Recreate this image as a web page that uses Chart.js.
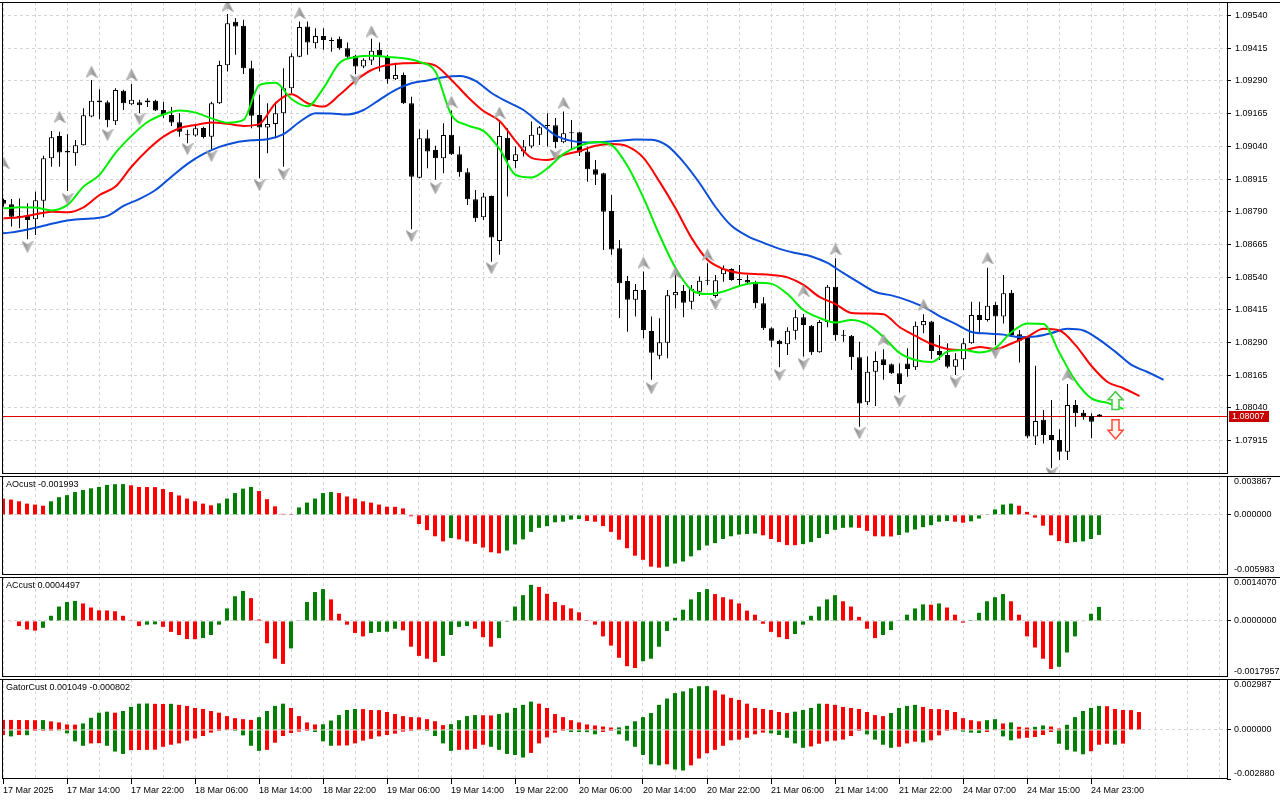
<!DOCTYPE html>
<html>
<head>
<meta charset="utf-8">
<title>EURUSD H1 — Alligator, AO, AC, Gator</title>
<script src="https://cdn.jsdelivr.net/npm/chart.js@4.4.1/dist/chart.umd.min.js"></script>
<style>
  html, body { margin: 0; padding: 0; background: #fff; }
  #wrap { position: relative; width: 1280px; height: 800px; overflow: hidden; background: #fff; }
  #wrap canvas { position: absolute; left: 0; }
</style>
</head>
<body>
<div id="wrap">
  <canvas id="main" width="1280" height="472" style="top:2px"></canvas>
  <canvas id="ao" width="1280" height="99" style="top:476px"></canvas>
  <canvas id="ac" width="1280" height="100" style="top:577px"></canvas>
  <canvas id="gator" width="1280" height="121" style="top:679px"></canvas>
</div>
<script>
"use strict";

// --- candles, H1, bar 0 = 17 Mar 2025 ---
const OPEN = [1.08835, 1.08819, 1.08774, 1.08774, 1.08761, 1.08832, 1.08994, 1.09080, 1.09022, 1.09014,
  1.09044, 1.09154, 1.09215, 1.09209, 1.09136, 1.09253, 1.09201, 1.09209, 1.09215, 1.09214,
  1.09179, 1.09160, 1.09132, 1.09082, 1.09081, 1.09110, 1.09077, 1.09205, 1.09350, 1.09516,
  1.09501, 1.09339, 1.09160, 1.09112, 1.09125, 1.09167, 1.09262, 1.09383, 1.09498, 1.09434,
  1.09462, 1.09447, 1.09451, 1.09415, 1.09386, 1.09345, 1.09368, 1.09409, 1.09383, 1.09297,
  1.09313, 1.09205, 1.08920, 1.09071, 1.09026, 1.08994, 1.09084, 1.09010, 1.08941, 1.08838,
  1.08769, 1.08850, 1.08678, 1.09073, 1.08984, 1.09020, 1.09039, 1.09084, 1.09118, 1.09121,
  1.09056, 1.09094, 1.09094, 1.09020, 1.08952, 1.08937, 1.08793, 1.08650, 1.08525, 1.08453,
  1.08491, 1.08334, 1.08239, 1.08289, 1.08471, 1.08487, 1.08446, 1.08484, 1.08526, 1.08468,
  1.08551, 1.08571, 1.08533, 1.08529, 1.08516, 1.08440, 1.08344, 1.08297, 1.08283, 1.08335,
  1.08386, 1.08354, 1.08253, 1.08368, 1.08503, 1.08319, 1.08316, 1.08233, 1.08061, 1.08178,
  1.08226, 1.08207, 1.08172, 1.08210, 1.08195, 1.08356, 1.08370, 1.08257, 1.08242, 1.08197,
  1.08226, 1.08287, 1.08395, 1.08376, 1.08433, 1.08389, 1.08480, 1.08321, 1.08312, 1.07930,
  1.07994, 1.07936, 1.07917, 1.07872, 1.08051, 1.08021, 1.08009, 1.08015];
const HIGH = [1.08841, 1.08839, 1.08841, 1.08822, 1.08867, 1.09004, 1.09099, 1.09096, 1.09086, 1.09064,
  1.09186, 1.09294, 1.09258, 1.09215, 1.09262, 1.09256, 1.09279, 1.09218, 1.09224, 1.09218,
  1.09211, 1.09190, 1.09167, 1.09103, 1.09122, 1.09115, 1.09211, 1.09367, 1.09546, 1.09530,
  1.09524, 1.09367, 1.09237, 1.09205, 1.09211, 1.09339, 1.09396, 1.09517, 1.09517, 1.09492,
  1.09492, 1.09456, 1.09460, 1.09437, 1.09390, 1.09377, 1.09451, 1.09437, 1.09390, 1.09360,
  1.09322, 1.09230, 1.09105, 1.09103, 1.09042, 1.09128, 1.09177, 1.09039, 1.08956, 1.08873,
  1.08863, 1.08852, 1.09135, 1.09109, 1.09039, 1.09064, 1.09135, 1.09118, 1.09167, 1.09148,
  1.09173, 1.09141, 1.09096, 1.09039, 1.08988, 1.08939, 1.08854, 1.08682, 1.08544, 1.08514,
  1.08561, 1.08389, 1.08383, 1.08491, 1.08567, 1.08510, 1.08510, 1.08542, 1.08593, 1.08548,
  1.08584, 1.08574, 1.08586, 1.08548, 1.08526, 1.08463, 1.08348, 1.08300, 1.08348, 1.08414,
  1.08399, 1.08357, 1.08376, 1.08510, 1.08612, 1.08338, 1.08319, 1.08293, 1.08236, 1.08255,
  1.08264, 1.08210, 1.08210, 1.08268, 1.08370, 1.08398, 1.08372, 1.08319, 1.08287, 1.08249,
  1.08306, 1.08446, 1.08446, 1.08576, 1.08446, 1.08548, 1.08491, 1.08338, 1.08314, 1.08201,
  1.08032, 1.08070, 1.07958, 1.08131, 1.08070, 1.08032, 1.08019, 1.08016];
const LOW = [1.08809, 1.08733, 1.08727, 1.08685, 1.08701, 1.08769, 1.08962, 1.08962, 1.08869, 1.08966,
  1.09043, 1.09151, 1.09144, 1.09113, 1.09122, 1.09179, 1.09198, 1.09167, 1.09190, 1.09175,
  1.09148, 1.09118, 1.09077, 1.09052, 1.09077, 1.09070, 1.09030, 1.09202, 1.09326, 1.09390,
  1.09317, 1.09109, 1.08918, 1.09014, 1.09071, 1.08962, 1.09243, 1.09381, 1.09390, 1.09415,
  1.09409, 1.09402, 1.09409, 1.09377, 1.09317, 1.09339, 1.09351, 1.09326, 1.09279, 1.09294,
  1.09202, 1.08723, 1.08918, 1.08956, 1.08912, 1.08937, 1.09007, 1.08924, 1.08816, 1.08752,
  1.08758, 1.08599, 1.08625, 1.08848, 1.08956, 1.09001, 1.09033, 1.09045, 1.09039, 1.09033,
  1.09052, 1.09026, 1.09003, 1.08905, 1.08892, 1.08644, 1.08625, 1.08384, 1.08331, 1.08389,
  1.08306, 1.08147, 1.08226, 1.08230, 1.08421, 1.08386, 1.08417, 1.08468, 1.08510, 1.08461,
  1.08522, 1.08526, 1.08506, 1.08510, 1.08421, 1.08338, 1.08272, 1.08195, 1.08242, 1.08300,
  1.08236, 1.08242, 1.08251, 1.08348, 1.08297, 1.08293, 1.08185, 1.07968, 1.08051, 1.08047,
  1.08147, 1.08169, 1.08099, 1.08159, 1.08185, 1.08325, 1.08226, 1.08223, 1.08191, 1.08166,
  1.08185, 1.08285, 1.08325, 1.08370, 1.08280, 1.08363, 1.08317, 1.08213, 1.07924, 1.07898,
  1.07904, 1.07809, 1.07841, 1.07841, 1.07968, 1.07994, 1.07924, 1.08005];
const CLOSE = [1.08820, 1.08771, 1.08769, 1.08758, 1.08834, 1.08994, 1.09075, 1.09016, 1.09016, 1.09044,
  1.09159, 1.09214, 1.09209, 1.09140, 1.09255, 1.09205, 1.09218, 1.09197, 1.09209, 1.09177,
  1.09160, 1.09131, 1.09096, 1.09084, 1.09109, 1.09076, 1.09205, 1.09351, 1.09511, 1.09498,
  1.09339, 1.09157, 1.09112, 1.09125, 1.09167, 1.09262, 1.09385, 1.09496, 1.09437, 1.09462,
  1.09447, 1.09443, 1.09415, 1.09383, 1.09345, 1.09371, 1.09406, 1.09386, 1.09297, 1.09313,
  1.09205, 1.08924, 1.09071, 1.09020, 1.08994, 1.09083, 1.09010, 1.08941, 1.08838, 1.08765,
  1.08848, 1.08691, 1.09080, 1.08988, 1.09010, 1.09039, 1.09084, 1.09113, 1.09122, 1.09056,
  1.09090, 1.09090, 1.09016, 1.08952, 1.08931, 1.08790, 1.08646, 1.08516, 1.08453, 1.08491,
  1.08338, 1.08251, 1.08291, 1.08471, 1.08483, 1.08442, 1.08495, 1.08526, 1.08529, 1.08528,
  1.08571, 1.08529, 1.08529, 1.08519, 1.08440, 1.08344, 1.08297, 1.08283, 1.08335, 1.08386,
  1.08357, 1.08253, 1.08368, 1.08503, 1.08318, 1.08316, 1.08233, 1.08057, 1.08178, 1.08219,
  1.08204, 1.08172, 1.08131, 1.08189, 1.08354, 1.08372, 1.08257, 1.08242, 1.08197, 1.08226,
  1.08287, 1.08395, 1.08376, 1.08430, 1.08389, 1.08478, 1.08319, 1.08297, 1.07930, 1.07990,
  1.07936, 1.07917, 1.07872, 1.08051, 1.08019, 1.08006, 1.07987, 1.08007];

// --- alligator lines, one reading every 2 bars ---
const JAW_FROM = -1;    // blue, runs 8 bars past the last candle
const JAW = [1.08705, 1.08711, 1.08722, 1.08736, 1.08751, 1.08760, 1.08764, 1.08774, 1.08812, 1.08839,
  1.08873, 1.08924, 1.08973, 1.09011, 1.09038, 1.09055, 1.09063, 1.09067, 1.09087, 1.09133,
  1.09167, 1.09166, 1.09162, 1.09179, 1.09218, 1.09256, 1.09281, 1.09292, 1.09304, 1.09309,
  1.09290, 1.09244, 1.09210, 1.09179, 1.09130, 1.09082, 1.09061, 1.09055, 1.09057, 1.09061,
  1.09066, 1.09065, 1.09042, 1.08980, 1.08900, 1.08808, 1.08736, 1.08697, 1.08671, 1.08648,
  1.08632, 1.08619, 1.08594, 1.08555, 1.08518, 1.08483, 1.08470, 1.08451, 1.08426, 1.08391,
  1.08361, 1.08330, 1.08324, 1.08320, 1.08311, 1.08313, 1.08326, 1.08342, 1.08336, 1.08300,
  1.08254, 1.08204, 1.08177, 1.08147];
const TEETH_FROM = 0;   // red
const TEETH = [1.08765, 1.08769, 1.08780, 1.08790, 1.08788, 1.08807, 1.08854, 1.08886, 1.08962, 1.09026,
  1.09077, 1.09109, 1.09122, 1.09131, 1.09126, 1.09118, 1.09126, 1.09205, 1.09239, 1.09205,
  1.09192, 1.09237, 1.09291, 1.09332, 1.09351, 1.09358, 1.09359, 1.09349, 1.09294, 1.09230,
  1.09175, 1.09137, 1.09061, 1.08996, 1.08988, 1.09007, 1.09022, 1.09042, 1.09049, 1.09040,
  1.08996, 1.08905, 1.08803, 1.08690, 1.08606, 1.08571, 1.08556, 1.08552, 1.08548, 1.08539,
  1.08510, 1.08464, 1.08437, 1.08403, 1.08401, 1.08398, 1.08349, 1.08315, 1.08284, 1.08265,
  1.08261, 1.08273, 1.08265, 1.08286, 1.08312, 1.08342, 1.08336, 1.08280, 1.08200, 1.08139,
  1.08115, 1.08085];
const LIPS_FROM = 0;    // green
const LIPS = [1.08803, 1.08807, 1.08806, 1.08795, 1.08816, 1.08886, 1.08931, 1.09015, 1.09080, 1.09133,
  1.09162, 1.09177, 1.09169, 1.09147, 1.09130, 1.09141, 1.09275, 1.09283, 1.09221, 1.09193,
  1.09263, 1.09359, 1.09381, 1.09386, 1.09382, 1.09377, 1.09363, 1.09325, 1.09160, 1.09120,
  1.09099, 1.09030, 1.08931, 1.08921, 1.08956, 1.09011, 1.09042, 1.09057, 1.09045, 1.08965,
  1.08843, 1.08701, 1.08575, 1.08491, 1.08475, 1.08485, 1.08506, 1.08518, 1.08514, 1.08475,
  1.08414, 1.08384, 1.08366, 1.08376, 1.08359, 1.08311, 1.08250, 1.08223, 1.08215, 1.08255,
  1.08261, 1.08252, 1.08269, 1.08330, 1.08363, 1.08361, 1.08250, 1.08143, 1.08076, 1.08059,
  1.08036];

// --- fractals (bar, price where the arrow sits) ---
const FR_UP_BARS = [0, 7, 11, 16, 28, 37, 46, 56, 62, 70, 80, 84, 88, 100, 104, 110, 115, 123, 133];
const FR_UP_PRICES = [1.08977, 1.09152, 1.09325, 1.09313, 1.09577, 1.09550, 1.09479, 1.09210, 1.09168, 1.09206,
  1.08595, 1.08557, 1.08625, 1.08488, 1.08646, 1.08300, 1.08433, 1.08612, 1.08166];
const FR_DN_BARS = [3, 8, 13, 17, 23, 26, 32, 35, 44, 51, 54, 61, 69, 81, 89, 97, 100, 107, 112, 119, 124, 131];
const FR_DN_PRICES = [1.08656, 1.08839, 1.09084, 1.09145, 1.09030, 1.09004, 1.08892, 1.08934, 1.09294, 1.08697,
  1.08880, 1.08574, 1.09007, 1.08115, 1.08437, 1.08166, 1.08208, 1.07943, 1.08066, 1.08138, 1.08251, 1.07790];

// signal arrows after the last bar: [tail, tip]
const SIGNAL_BAR = 139;
const BUY_ARROW = [1.08034, 1.08102];
const SELL_ARROW = [1.07994, 1.07921];
const LAST_PRICE = 1.08007;

// --- oscillators ---
const AO = [0.00162, 0.00152, 0.00135, 0.00112, 0.00102, 0.00091, 0.00135, 0.00176, 0.00196, 0.00227,
  0.00247, 0.00264, 0.00278, 0.00298, 0.00305, 0.00306, 0.00294, 0.00278, 0.00277, 0.00276,
  0.00257, 0.00227, 0.00193, 0.00162, 0.00135, 0.00112, 0.00095, 0.00115, 0.00162, 0.00217,
  0.00261, 0.00278, 0.00237, 0.00156, 0.00085, 0.00010, 0.00009, 0.00074, 0.00122, 0.00162,
  0.00217, 0.00227, 0.00217, 0.00183, 0.00162, 0.00135, 0.00122, 0.00102, 0.00081, 0.00080,
  0.00064, -0.00014, -0.00091, -0.00152, -0.00213, -0.00264, -0.00230, -0.00244, -0.00264, -0.00288,
  -0.00325, -0.00372, -0.00383, -0.00355, -0.00294, -0.00244, -0.00169, -0.00129, -0.00112, -0.00074,
  -0.00068, -0.00047, -0.00041, -0.00061, -0.00068, -0.00112, -0.00169, -0.00247, -0.00332, -0.00406,
  -0.00447, -0.00515, -0.00525, -0.00515, -0.00484, -0.00464, -0.00413, -0.00352, -0.00305, -0.00281,
  -0.00240, -0.00213, -0.00196, -0.00190, -0.00186, -0.00203, -0.00240, -0.00271, -0.00301, -0.00302,
  -0.00291, -0.00271, -0.00230, -0.00190, -0.00149, -0.00129, -0.00125, -0.00129, -0.00159, -0.00213,
  -0.00214, -0.00215, -0.00200, -0.00176, -0.00146, -0.00122, -0.00102, -0.00068, -0.00061, -0.00068,
  -0.00078, -0.00064, -0.00037, 0.00007, 0.00054, 0.00102, 0.00112, 0.00091, 0.00030, -0.00027,
  -0.00108, -0.00203, -0.00261, -0.00281, -0.00271, -0.00264, -0.00240, -0.001993];
const AC = [-0.000010, -0.000020, -0.000165, -0.000275, -0.000310, -0.000220, 0.000165, 0.000460, 0.000605, 0.000640,
  0.000560, 0.000430, 0.000340, 0.000335, 0.000310, 0.000165, 0.000010, -0.000165, -0.000120, -0.000110,
  -0.000190, -0.000350, -0.000450, -0.000580, -0.000585, -0.000550, -0.000450, -0.000120, 0.000400, 0.000790,
  0.000960, 0.000730, 0.000045, -0.000715, -0.001210, -0.001375, -0.000880, 0.000010, 0.000605, 0.000925,
  0.001020, 0.000690, 0.000230, -0.000120, -0.000385, -0.000495, -0.000385, -0.000350, -0.000345, -0.000250,
  -0.000300, -0.000825, -0.001120, -0.001210, -0.001320, -0.001120, -0.000450, -0.000190, -0.000165, -0.000250,
  -0.000520, -0.000825, -0.000550, -0.000030, 0.000460, 0.000825, 0.001155, 0.001090, 0.000870, 0.000605,
  0.000505, 0.000400, 0.000275, 0.000030, -0.000120, -0.000495, -0.000790, -0.001180, -0.001450, -0.001510,
  -0.001290, -0.001210, -0.000825, -0.000320, 0.000100, 0.000360, 0.000690, 0.000925, 0.001020, 0.000860,
  0.000760, 0.000690, 0.000560, 0.000330, 0.000200, -0.000090, -0.000350, -0.000520, -0.000580, -0.000420,
  -0.000120, 0.000165, 0.000460, 0.000690, 0.000825, 0.000630, 0.000460, 0.000130, -0.000250, -0.000550,
  -0.000450, -0.000290, 0.000020, 0.000200, 0.000400, 0.000530, 0.000520, 0.000560, 0.000430, 0.000200,
  -0.000055, 0.000030, 0.000260, 0.000630, 0.000760, 0.000860, 0.000630, 0.000200, -0.000495, -0.000850,
  -0.001210, -0.001540, -0.001470, -0.001010, -0.000495, -0.000020, 0.000230, 0.0004497];
const GATOR_UP = [0.000590, 0.000585, 0.000580, 0.000575, 0.000570, 0.000575, 0.000500, 0.000440, 0.000320, 0.000310,
  0.000380, 0.000710, 0.001010, 0.001070, 0.001010, 0.001110, 0.001350, 0.001540, 0.001550, 0.001530,
  0.001520, 0.001530, 0.001470, 0.001410, 0.001290, 0.001230, 0.001110, 0.001010, 0.000810, 0.000690,
  0.000630, 0.000590, 0.000750, 0.001110, 0.001410, 0.001540, 0.001290, 0.000810, 0.000440, 0.000320,
  0.000330, 0.000550, 0.000870, 0.001170, 0.001230, 0.001220, 0.001170, 0.001160, 0.001050, 0.000930,
  0.000810, 0.000750, 0.000740, 0.000630, 0.000510, 0.000280, 0.000340, 0.000570, 0.000810, 0.000870,
  0.000860, 0.000850, 0.000930, 0.001010, 0.001290, 0.001470, 0.001660, 0.001540, 0.001290, 0.000930,
  0.000750, 0.000570, 0.000440, 0.000320, 0.000260, 0.000200, 0.000140, 0.000150, 0.000240, 0.000505,
  0.000750, 0.000990, 0.001470, 0.001840, 0.002160, 0.002260, 0.002440, 0.002565, 0.002570, 0.002320,
  0.002080, 0.001880, 0.001760, 0.001540, 0.001290, 0.001230, 0.001170, 0.001050, 0.000990, 0.001070,
  0.001170, 0.001290, 0.001540, 0.001530, 0.001470, 0.001350, 0.001290, 0.001230, 0.001050, 0.000870,
  0.000810, 0.000990, 0.001290, 0.001410, 0.001470, 0.001350, 0.001230, 0.001220, 0.001170, 0.001050,
  0.000690, 0.000570, 0.000505, 0.000570, 0.000630, 0.000380, 0.000440, 0.000180, 0.000140, 0.000180,
  0.000260, 0.000200, 0.000080, 0.000300, 0.000750, 0.001110, 0.001290, 0.001410, 0.001390, 0.001230,
  0.001170, 0.001160, 0.001049];
const GATOR_DN = [-0.000300, -0.000380, -0.000300, -0.000310, -0.000060, -0.000060, -0.000005, -0.000010, -0.000200, -0.000670,
  -0.000930, -0.000790, -0.000780, -0.000930, -0.001270, -0.001410, -0.001190, -0.001180, -0.001170, -0.001160,
  -0.000990, -0.000870, -0.000790, -0.000630, -0.000505, -0.000360, -0.000160, -0.000060, -0.000020, -0.000060,
  -0.000320, -0.000930, -0.001230, -0.001170, -0.000750, -0.000360, -0.000180, -0.000100, -0.000060, -0.000120,
  -0.000670, -0.000930, -0.000920, -0.000910, -0.000790, -0.000630, -0.000525, -0.000380, -0.000300, -0.000220,
  -0.000100, -0.000060, -0.000020, -0.000060, -0.000360, -0.000790, -0.001230, -0.001170, -0.001160, -0.001110,
  -0.000870, -0.000990, -0.001170, -0.001410, -0.001470, -0.001620, -0.001350, -0.000790, -0.000440, -0.000160,
  -0.000060, -0.000120, -0.000125, -0.000130, -0.000260, -0.000120, -0.000060, -0.000260, -0.000630, -0.000990,
  -0.001470, -0.002020, -0.002080, -0.002020, -0.002320, -0.002380, -0.002080, -0.001680, -0.001370, -0.001170,
  -0.000930, -0.000610, -0.000570, -0.000460, -0.000260, -0.000160, -0.000200, -0.000300, -0.000460, -0.000790,
  -0.001050, -0.000970, -0.000810, -0.000670, -0.000630, -0.000570, -0.000360, -0.000060, -0.000260, -0.000570,
  -0.000870, -0.001050, -0.000990, -0.000790, -0.000690, -0.000730, -0.000610, -0.000320, -0.000060, -0.000020,
  -0.000100, -0.000160, -0.000180, -0.000120, -0.000020, -0.000380, -0.000610, -0.000505, -0.000460, -0.000420,
  -0.000300, -0.000120, -0.000810, -0.001170, -0.001270, -0.001430, -0.001250, -0.000870, -0.000810, -0.000870,
  -0.000802];

// --- axes ---
const PRICE_TICKS = [1.07915, 1.08040, 1.08165, 1.08290, 1.08415, 1.08540, 1.08665,
  1.08790, 1.08915, 1.09040, 1.09165, 1.09290, 1.09415, 1.09540];
const TIME_LABELS = ["17 Mar 2025", "17 Mar 14:00", "17 Mar 22:00", "18 Mar 06:00", "18 Mar 14:00",
  "18 Mar 22:00", "19 Mar 06:00", "19 Mar 14:00", "19 Mar 22:00", "20 Mar 06:00", "20 Mar 14:00",
  "20 Mar 22:00", "21 Mar 06:00", "21 Mar 14:00", "21 Mar 22:00", "24 Mar 07:00", "24 Mar 15:00",
  "24 Mar 23:00"];
const AO_RANGE = [-0.005983, 0.003867];
const AC_RANGE = [-0.0017957, 0.0014070];
const GATOR_RANGE = [-0.002880, 0.002987];
const PRICE_RANGE = [1.07787, 1.09592];

// --- look ---
const FONT = { family: '"Liberation Sans", Arial, sans-serif', size: 9 };
const FONT_CSS = '9px "Liberation Sans", Arial, sans-serif';
const GRID = "#d5d5d5";
const UP_C = "#008000", DOWN_C = "#ff0000";
const BAR_PX = 8;                       // one bar every 8 px
const AREA_W = 1225;                    // plot width left of the price axis

const noPad = (s) => { s.paddingTop = s.paddingBottom = s.paddingLeft = s.paddingRight = 0; };

function xAxis(xMin, withLabels) {
  return {
    type: "linear", min: xMin, max: xMin + AREA_W / BAR_PX, offset: false,
    afterBuildTicks: (s) => { s.ticks = []; for (let v = 0; v <= 152; v += 4) s.ticks.push({ value: v }); },
    afterFit: (s) => { s.height = withLabels ? 21 : 0; noPad(s); },
    grid: {
      color: GRID, offset: false, drawTicks: withLabels, tickLength: 5,
      tickColor: (c) => (c.tick && c.tick.value % 8 === 0 && c.tick.value <= 136) ? "#000" : "rgba(0,0,0,0)",
    },
    border: { display: false, dash: [3, 3] },
    ticks: {
      display: withLabels, autoSkip: false, maxRotation: 0, align: "start", padding: 1,
      color: "#000", font: FONT,
      callback: (v) => (v % 8 === 0 && TIME_LABELS[v / 8]) || "",
    },
  };
}

// MT colouring: green when the bar grew against the previous one
const trendColors = (vals) => vals.map((v, i) => (i > 0 && v > vals[i - 1]) ? UP_C : DOWN_C);
const sizeColors = (vals) => vals.map((v, i) => (i > 0 && Math.abs(v) > Math.abs(vals[i - 1])) ? UP_C : DOWN_C);

const frame = {
  id: "frame",
  afterDraw(chart, args, o) {
    const { ctx, chartArea: a, width } = chart;
    ctx.save();
    ctx.strokeStyle = "#000";
    ctx.lineWidth = 1;
    ctx.beginPath();
    ctx.moveTo(0, a.top + 0.5); ctx.lineTo(width, a.top + 0.5);
    ctx.moveTo(a.left + 0.5, a.top); ctx.lineTo(a.left + 0.5, a.bottom);
    ctx.moveTo(a.left, a.bottom - 0.5); ctx.lineTo(a.right + 1, a.bottom - 0.5);
    ctx.moveTo(a.right + 0.5, a.top); ctx.lineTo(a.right + 0.5, a.bottom);
    ctx.stroke();
    ctx.font = FONT_CSS;
    ctx.fillStyle = "#000";
    ctx.textAlign = "left";
    if (o.title) {
      ctx.textBaseline = "middle";
      ctx.fillText(o.title, a.left + 4, a.top + 9);
    }
    if (o.yLabels) {
      const y = chart.scales.y;
      o.yLabels.forEach((v) => {
        const py = y.getPixelForValue(v);
        let dy = 0;
        if (py <= a.top + 1) { ctx.textBaseline = "top"; dy = 1; }
        else if (py >= a.bottom - 1) { ctx.textBaseline = "bottom"; dy = -1; }
        else ctx.textBaseline = "middle";
        ctx.fillText(v.toFixed(o.digits), a.right + 7, py + dy);
      });
    }
    ctx.restore();
  },
};

function drawArrow(ctx, x, yTail, yTip, stroke, fill) {
  const dir = yTip < yTail ? -1 : 1;
  const head = Math.abs(yTip - yTail) * 0.46;
  const neck = yTip - dir * head;
  ctx.beginPath();
  ctx.moveTo(x, yTip);
  ctx.lineTo(x + 7.5, neck);
  ctx.lineTo(x + 3.5, neck);
  ctx.lineTo(x + 3.5, yTail);
  ctx.lineTo(x - 3.5, yTail);
  ctx.lineTo(x - 3.5, neck);
  ctx.lineTo(x - 7.5, neck);
  ctx.closePath();
  ctx.fillStyle = fill;
  ctx.fill();
  ctx.lineWidth = 1.5;
  ctx.strokeStyle = stroke;
  ctx.stroke();
}

const priceMarks = {
  id: "priceMarks",
  beforeDatasetsDraw(chart) {
    const { ctx, chartArea: a, scales: { y } } = chart;
    const py = Math.round(y.getPixelForValue(LAST_PRICE)) + 0.5;
    ctx.save();
    ctx.strokeStyle = "#e00000";
    ctx.lineWidth = 1;
    ctx.beginPath(); ctx.moveTo(a.left, py); ctx.lineTo(a.right, py); ctx.stroke();
    ctx.restore();
  },
  afterDatasetsDraw(chart) {
    const { ctx, scales: { x, y } } = chart;
    const px = x.getPixelForValue(SIGNAL_BAR);
    ctx.save();
    drawArrow(ctx, px, y.getPixelForValue(BUY_ARROW[0]), y.getPixelForValue(BUY_ARROW[1]), "#49c84a", "#f3fff0");
    drawArrow(ctx, px, y.getPixelForValue(SELL_ARROW[0]), y.getPixelForValue(SELL_ARROW[1]), "#ff4a3a", "#fff3ef");
    ctx.restore();
  },
  afterDraw(chart) {
    const { ctx, chartArea: a, scales: { y } } = chart;
    const py = Math.round(y.getPixelForValue(LAST_PRICE));
    ctx.save();
    ctx.fillStyle = "#c80000";
    ctx.fillRect(a.right + 2, py - 5, 40, 11);
    ctx.fillStyle = "#fff";
    ctx.font = FONT_CSS;
    ctx.textBaseline = "middle";
    ctx.textAlign = "left";
    ctx.fillText(LAST_PRICE.toFixed(5), a.right + 5, py + 0.5);
    ctx.restore();
  },
};

function fractalImage() {
  const c = document.createElement("canvas");
  c.width = 12; c.height = 12;
  const g = c.getContext("2d");
  const grad = g.createLinearGradient(0, 0, 12, 0);
  grad.addColorStop(0, "#e2e2e2");
  grad.addColorStop(0.5, "#a9a9a9");
  grad.addColorStop(1, "#767676");
  g.beginPath();
  g.moveTo(6, 0.5); g.lineTo(11.5, 11.5); g.lineTo(6, 8); g.lineTo(0.5, 11.5);
  g.closePath();
  g.fillStyle = grad;
  g.fill();
  g.strokeStyle = "#9c9c9c";
  g.lineWidth = 0.8;
  g.stroke();
  return c;
}
const FRACTAL_IMG = fractalImage();

const baseOptions = (xMin, withLabels) => ({
  responsive: false, animation: false, events: [],
  layout: { autoPadding: false, padding: { left: 2, right: 0, top: 0, bottom: 0 } },
  plugins: { legend: { display: false }, tooltip: { enabled: false } },
  scales: { x: xAxis(xMin, withLabels) },
});

// --- main chart ---
const alligator = (vals, from, color, order) => ({
  type: "line",
  data: vals.map((v, k) => ({ x: from + 2 * k, y: v })),
  borderColor: color, borderWidth: 2, pointRadius: 0,
  cubicInterpolationMode: "monotone", order,
});
const fractals = (bars, prices, rotation) => ({
  type: "line", showLine: false,
  data: bars.map((b, k) => ({ x: b, y: prices[k] })),
  pointStyle: FRACTAL_IMG, pointRadius: 5, pointRotation: rotation, order: 0,
});
const bodyFill = (c) => {
  const i = c.dataIndex, y = c.chart.scales.y;
  const h = Math.abs(y.getPixelForValue(OPEN[i]) - y.getPixelForValue(CLOSE[i]));
  return (CLOSE[i] > OPEN[i] && h >= 2.5) ? "#fff" : "#000";
};

const mainOpts = baseOptions(-0.1875, false);
mainOpts.plugins.frame = {};
mainOpts.scales.y = {
  position: "right", min: PRICE_RANGE[0], max: PRICE_RANGE[1],
  afterBuildTicks: (s) => { s.ticks = PRICE_TICKS.map((v) => ({ value: v })); },
  afterFit: (s) => { s.width = 1280 - 2 - AREA_W; noPad(s); },
  grid: { color: GRID, tickColor: "#000", tickLength: 4 },
  border: { display: false, dash: [3, 3] },
  ticks: { color: "#000", font: FONT, padding: 4, autoSkip: false, callback: (v) => v.toFixed(5) },
};

new Chart(document.getElementById("main"), {
  type: "bar",
  data: {
    datasets: [
      { data: CLOSE.map((c, i) => ({ x: i, y: [LOW[i], HIGH[i]] })), backgroundColor: "#000",
        barThickness: 1, grouped: false, inflateAmount: 0, order: 10 },
      { data: CLOSE.map((c, i) => ({ x: i, y: [OPEN[i], c] })), backgroundColor: bodyFill,
        borderColor: "#000", borderWidth: 1, borderSkipped: false, barThickness: 5,
        minBarLength: 1, grouped: false, inflateAmount: 0, order: 9 },
      alligator(JAW, JAW_FROM, "#0b4fd8", 5),
      alligator(TEETH, TEETH_FROM, "#ff0000", 4),
      alligator(LIPS, LIPS_FROM, "#00ee00", 3),
      fractals(FR_UP_BARS, FR_UP_PRICES, 0),
      fractals(FR_DN_BARS, FR_DN_PRICES, 180),
    ],
  },
  options: mainOpts,
  plugins: [frame, priceMarks],
});

// --- sub windows ---
function subPanel(id, title, datasets, range, digits, withLabels) {
  const opts = baseOptions(-0.125, withLabels);
  opts.plugins.frame = { title, yLabels: [range[1], 0, range[0]], digits };
  opts.scales.y = {
    position: "right", min: range[0], max: range[1],
    afterBuildTicks: (s) => { s.ticks = [range[1], 0, range[0]].map((v) => ({ value: v })); },
    afterFit: (s) => { s.width = 1280 - 2 - AREA_W; noPad(s); },
    grid: { color: (c) => (c.tick && c.tick.value === 0) ? GRID : "rgba(0,0,0,0)", tickColor: "#000", tickLength: 4 },
    border: { display: false, dash: [3, 3] },
    ticks: { display: false },
  };
  return new Chart(document.getElementById(id), {
    type: "bar", data: { datasets }, options: opts, plugins: [frame],
  });
}
const histogram = (vals, colors) => ({
  data: vals.map((v, i) => ({ x: i, y: v })),
  backgroundColor: colors, barThickness: 4, grouped: false, inflateAmount: 0,
});

subPanel("ao", "AOcust " + AO[AO.length - 1].toFixed(6),
  [histogram(AO, trendColors(AO))], AO_RANGE, 6, false);
subPanel("ac", "ACcust " + AC[AC.length - 1].toFixed(7),
  [histogram(AC, trendColors(AC))], AC_RANGE, 7, false);
subPanel("gator", "GatorCust " + GATOR_UP[GATOR_UP.length - 1].toFixed(6) + " " + GATOR_DN[GATOR_DN.length - 1].toFixed(6),
  [histogram(GATOR_UP, sizeColors(GATOR_UP)), histogram(GATOR_DN, sizeColors(GATOR_DN))], GATOR_RANGE, 6, true);
</script>
</body>
</html>
